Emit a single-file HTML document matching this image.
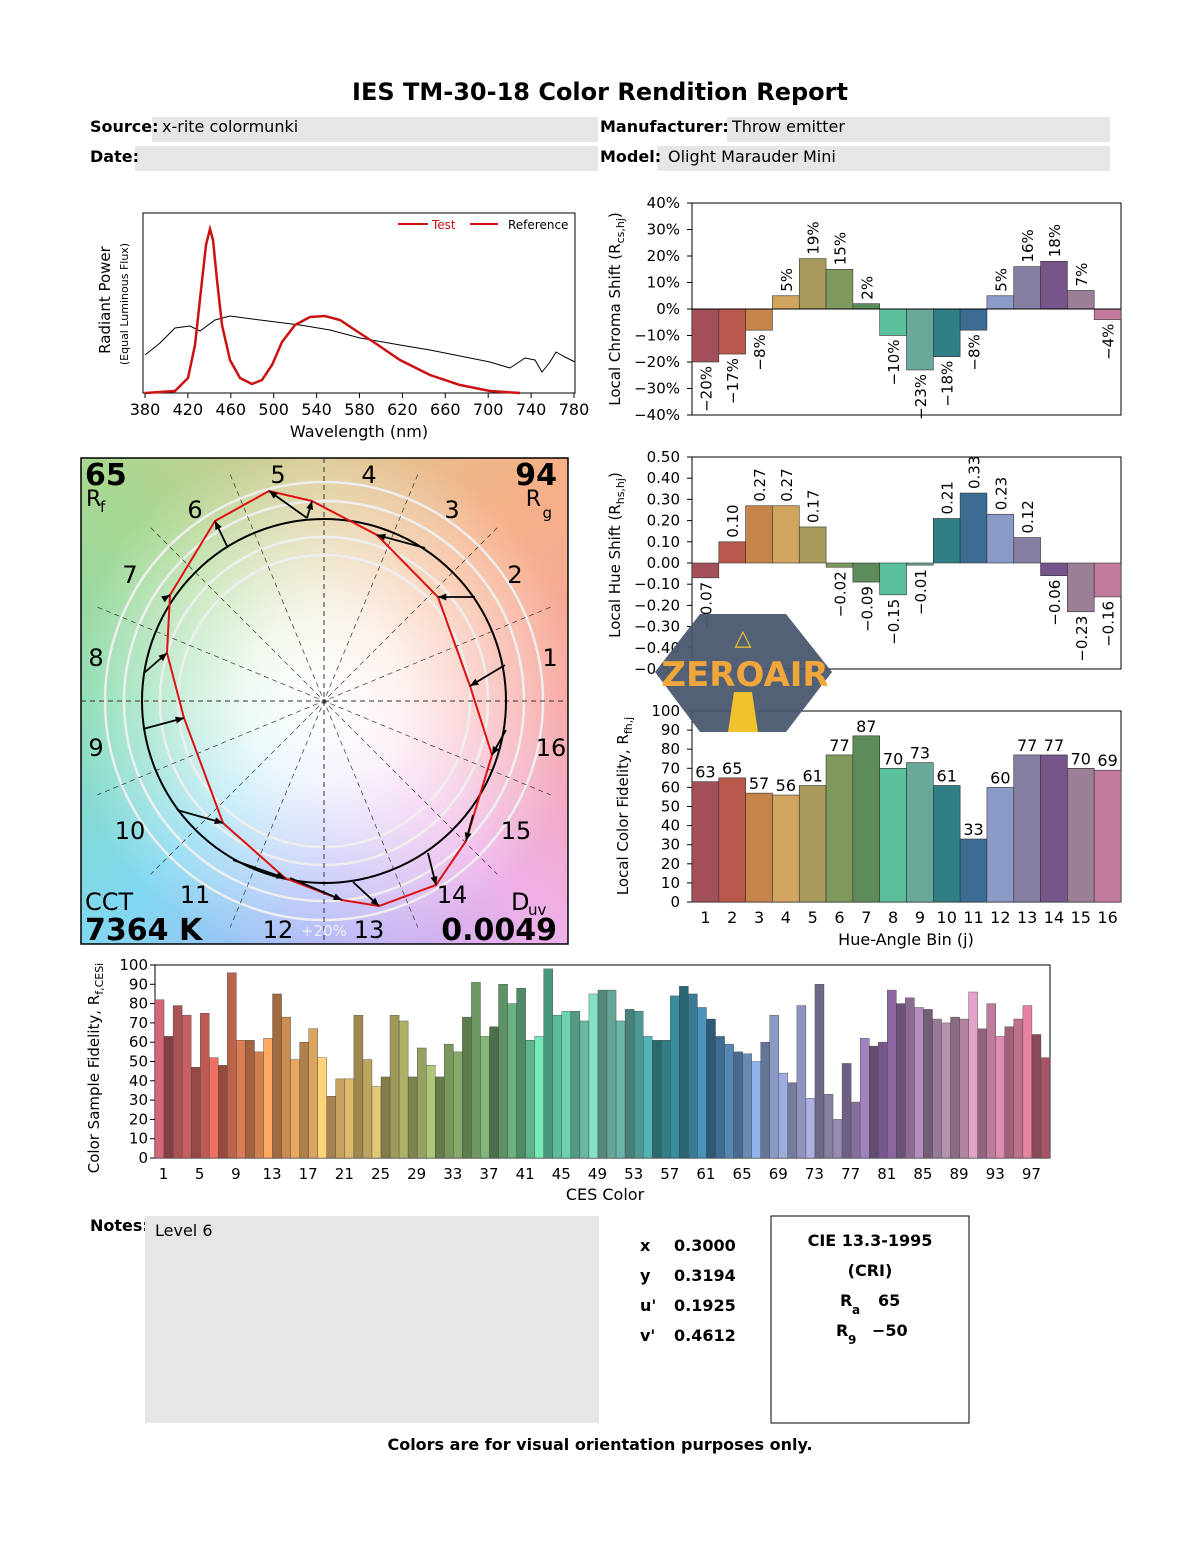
<!DOCTYPE html>
<html><head><meta charset="utf-8"><style>
body{margin:0;background:#fff;width:1200px;height:1550px;position:relative;overflow:hidden;font-family:"DejaVu Sans","Liberation Sans",sans-serif}
#vg{position:absolute;left:81px;top:458px;width:487px;height:486px;
background:radial-gradient(circle at 50% 50%,rgba(255,255,255,1) 0,rgba(255,255,255,.85) 80px,rgba(255,255,255,0) 260px),
conic-gradient(from 90deg at 50% 50%,#f7a4a0,#eeb0e8 45deg,#b0b4f8 90deg,#80d8f0 135deg,#88dcb0 180deg,#a8d890 225deg,#dcc890 270deg,#f6b088 315deg,#f7a4a0 360deg)}
svg{position:absolute;left:0;top:0}
</style></head><body>
<div id="vg"></div>
<svg id="s" width="1200" height="1550" font-family="DejaVu Sans, Liberation Sans, sans-serif"></svg>
<script>
const NS='http://www.w3.org/2000/svg';
const S=document.getElementById('s');
function el(t,a,txt){const e=document.createElementNS(NS,t);for(const k in a)e.setAttribute(k,a[k]);if(txt!=null)e.textContent=txt;S.appendChild(e);return e;}
function tx(x,y,s,o){o=o||{};const a={x:x,y:y,'font-size':o.fs||15,fill:o.fill||'#000','text-anchor':o.a||'start'};if(o.b)a['font-weight']='bold';if(o.r!=null)a.transform='rotate('+o.r+' '+x+' '+y+')';return el('text',a,s);}
function ts(e,s,dy,fs){const t=document.createElementNS(NS,'tspan');t.textContent=s;if(dy!=null)t.setAttribute('dy',dy);if(fs)t.setAttribute('font-size',fs);e.appendChild(t);return t;}
function sublabel(x,y,main,sub,tail){const e=tx(x,y,'',{fs:15,a:'middle',r:-90});ts(e,main);ts(e,sub,4,11);if(tail)ts(e,tail,-4);return e;}
const M=v=>(v<0?'\u2212':'')+Math.abs(v);
// header
tx(600,100,'IES TM-30-18 Color Rendition Report',{fs:24,b:1,a:'middle'});
el('rect',{x:152,y:117,width:446,height:25,fill:'#e6e6e6'});
el('rect',{x:135,y:146,width:463,height:25,fill:'#e6e6e6'});
el('rect',{x:727,y:117,width:383,height:25,fill:'#e6e6e6'});
el('rect',{x:657,y:146,width:453,height:25,fill:'#e6e6e6'});
tx(90,132,'Source:',{fs:16,b:1});tx(162,132,'x-rite colormunki',{fs:16});
tx(90,162,'Date:',{fs:16,b:1});
tx(600,132,'Manufacturer:',{fs:16,b:1});tx(732,132,'Throw emitter',{fs:16});
tx(600,162,'Model:',{fs:16,b:1});tx(668,162,'Olight Marauder Mini',{fs:16});
// spectrum
el('rect',{x:143,y:213,width:432,height:180,fill:'none',stroke:'#000'});
for(let i=0;i<=10;i++){const w=380+i*40,x=145+i*42.9;tx(x,415,''+w,{fs:16,a:'middle'});el('line',{x1:x,y1:393,x2:x,y2:398,stroke:'#000'});}
tx(359,437,'Wavelength (nm)',{fs:16,a:'middle'});
tx(110,300,'Radiant Power',{fs:15,a:'middle',r:-90});tx(128,304,'(Equal Luminous Flux)',{fs:11,a:'middle',r:-90});
el('polyline',{points:'145,355 160,343 175,328 190,326 200,331 215,320 230,316 260,320 300,325 330,330 360,338 400,345 430,350 460,356 490,362 510,368 525,358 535,360 542,372 550,362 556,352 565,357 575,362',fill:'none',stroke:'#000','stroke-width':1});
el('polyline',{points:'145,393 175,391 188,378 195,345 201,290 206,245 210,229 213,240 217,280 222,325 230,360 240,378 252,384 262,380 272,365 282,342 295,325 310,317 325,316 340,320 355,330 375,343 400,360 430,375 460,385 490,391 520,393',fill:'none',stroke:'#cc1111','stroke-width':2.5});
el('line',{x1:398,y1:224,x2:428,y2:224,stroke:'#cc1111','stroke-width':2});tx(432,229,'Test',{fs:12,fill:'#cc1111'});
el('line',{x1:470,y1:224,x2:498,y2:224,stroke:'#cc1111','stroke-width':2});tx(508,229,'Reference',{fs:12});
// colors
const C=['#a34f5a','#b8574a','#c7844a','#d2a55f','#a89a5a','#7f9a5c','#5d8b5c','#5abf9b','#6aa89a','#2f7f85','#3b6c93','#8b9ac7','#857ea0','#76558a','#9b7f97','#c27b9d'];
const X0=692,BW=429/16;
// chroma
const ch=[-20,-17,-8,5,19,15,2,-10,-23,-18,-8,5,16,18,7,-4];
el('rect',{x:692,y:203,width:429,height:212,fill:'none',stroke:'#000'});
for(let v=-40;v<=40;v+=10){const y=309-v*2.65;tx(680,y+5,M(v)+'%',{fs:15,a:'end'});el('line',{x1:687,y1:y,x2:692,y2:y,stroke:'#000'});}
sublabel(620,309,'Local Chroma Shift (R','cs,hj',')');
ch.forEach((v,i)=>{const x=X0+i*BW,h=Math.abs(v)*2.65,cx=x+BW/2+6;el('rect',{x:x,y:v>0?309-h:309,width:BW,height:h,fill:C[i],stroke:'#333','stroke-width':.6});
if(v>0){tx(cx,305-h,v+'%',{fs:15,r:-90});}else{tx(cx,313+h,M(v)+'%',{fs:15,r:-90,a:'end'});}});
el('line',{x1:692,y1:309,x2:1121,y2:309,stroke:'#000'});
// hue
const hs=[-0.07,0.10,0.27,0.27,0.17,-0.02,-0.09,-0.15,-0.01,0.21,0.33,0.23,0.12,-0.06,-0.23,-0.16];
el('rect',{x:692,y:457,width:429,height:212,fill:'none',stroke:'#000'});
for(let k=-5;k<=5;k++){const v=k/10,y=563-v*212;tx(680,y+5,(v<0?'\u2212':'')+Math.abs(v).toFixed(2),{fs:15,a:'end'});el('line',{x1:687,y1:y,x2:692,y2:y,stroke:'#000'});}
sublabel(620,555,'Local Hue Shift (R','hs,hj',')');
hs.forEach((v,i)=>{const x=X0+i*BW,h=Math.abs(v)*212,cx=x+BW/2+6;el('rect',{x:x,y:v>0?563-h:563,width:BW,height:h,fill:C[i],stroke:'#333','stroke-width':.6});
const s=(v<0?'\u2212':'')+Math.abs(v).toFixed(2);if(v>0)tx(cx,559-h,s,{fs:15,r:-90});else tx(cx,567+h,s,{fs:15,r:-90,a:'end'});});
// fidelity
const fd=[63,65,57,56,61,77,87,70,73,61,33,60,77,77,70,69];
el('rect',{x:692,y:711,width:429,height:191,fill:'none',stroke:'#000'});
for(let v=0;v<=100;v+=10){const y=902-v*1.91;tx(680,y+5,''+v,{fs:15,a:'end'});el('line',{x1:687,y1:y,x2:692,y2:y,stroke:'#000'});}
sublabel(628,806,'Local Color Fidelity, R','fh,j','');
fd.forEach((v,i)=>{const x=X0+i*BW,h=v*1.91;el('rect',{x:x,y:902-h,width:BW,height:h,fill:C[i],stroke:'#333','stroke-width':.6});tx(x+BW/2,898-h,''+v,{fs:16,a:'middle'});tx(x+BW/2,923,''+(i+1),{fs:16,a:'middle'});});
tx(906,945,'Hue-Angle Bin (j)',{fs:16,a:'middle'});
// vector graphic
el('rect',{x:81,y:458,width:487,height:486,fill:'none',stroke:'#000','stroke-width':1.5});
const cx=324,cy=701;
[146,164,200,219].forEach(r=>el('circle',{cx:cx,cy:cy,r:r,fill:'none',stroke:'#eeeeee','stroke-width':2.5}));
for(let k=0;k<8;k++){const a=k*22.5*Math.PI/180,L=k%4==0?243:245,dx=Math.cos(a)*L,dy=Math.sin(a)*L;el('line',{x1:cx-dx,y1:cy-dy,x2:cx+dx,y2:cy+dy,stroke:'#333','stroke-width':k%4==0?1:.7,'stroke-dasharray':'5,4'});}
el('circle',{cx:cx,cy:cy,r:182,fill:'none',stroke:'#000','stroke-width':2});
const T=[[470,686],[438,597],[377,535],[312,501],[269,491],[215,521],[170,595],[167,653],[184,718],[223,823],[285,878],[342,900],[379,906],[436,885],[466,841],[492,755]];
el('polygon',{points:T.map(p=>p.join(',')).join(' '),fill:'none',stroke:'#dd1111','stroke-width':2});
const R=[[505,665],[475,597],[425,548],[307,518],[307,518],[227,546],[165,598],[144,673],[143,729],[177,810],[233,860],[290,878],[353,882],[428,853],[473,815],[506,730]];
T.forEach((t,i)=>{const r=R[i];el('line',{x1:r[0],y1:r[1],x2:t[0],y2:t[1],stroke:'#000','stroke-width':1.8});const a=Math.atan2(t[1]-r[1],t[0]-r[0]),l=9;
el('polygon',{points:[t,[t[0]-l*Math.cos(a-.4),t[1]-l*Math.sin(a-.4)],[t[0]-l*Math.cos(a+.4),t[1]-l*Math.sin(a+.4)]].map(p=>p.join(',')).join(' '),fill:'#000'});});
const HL=[[550,666],[515,583],[452,518],[369,483],[278,483],[195,518],[130,583],[96,666],[96,756],[130,839],[195,903],[278,938],[369,938],[452,903],[516,839],[551,756]];
HL.forEach((p,i)=>tx(p[0],p[1],''+(i+1),{fs:24,a:'middle'}));
tx(324,936,'+20%',{fs:15,fill:'#eee',a:'middle'});
tx(85,485,'65',{fs:30,b:1});tx(86,506,'R',{fs:22});tx(100,512,'f',{fs:15});
tx(557,485,'94',{fs:30,b:1,a:'end'});tx(541,506,'R',{fs:22,a:'end'});tx(552,518,'g',{fs:15,a:'end'});
tx(85,910,'CCT',{fs:24});tx(85,940,'7364 K',{fs:30,b:1});
tx(511,910,'D',{fs:24});tx(528,915,'uv',{fs:15});tx(557,940,'0.0049',{fs:30,b:1,a:'end'});
// watermark
el('polygon',{points:'700,614 786,614 832,672 786,732 700,732 655,672',fill:'#4a5870',opacity:.95});
el('polygon',{points:'728,732 758,732 752,692 734,692',fill:'#f2c22e'});
tx(743,645,'\u25B3',{fs:22,fill:'#f2c22e',a:'middle',b:1});
tx(745,686,'ZEROAIR',{fs:34,b:1,fill:'#f0a63a',a:'middle'});
// CES
const ces=[82,63,79,74,47,75,52,48,96,61,61,55,62,85,73,51,60,67,52,32,41,41,74,51,37,42,74,71,42,57,48,42,59,55,73,91,63,68,90,80,88,61,63,98,74,76,76,71,85,87,87,71,77,76,63,61,61,84,89,85,78,72,63,59,55,54,50,60,74,44,39,79,31,90,33,20,49,29,62,58,60,87,80,83,78,77,72,70,73,72,86,67,80,63,68,72,79,64,52];
function hx(h){return [1,3,5].map(k=>parseInt(h.substr(k,2),16));}
el('rect',{x:155,y:965,width:895,height:193,fill:'none',stroke:'#000'});
for(let v=0;v<=100;v+=10){const y=1158-v*1.93;tx(148,y+5,''+v,{fs:15,a:'end'});el('line',{x1:150,y1:y,x2:155,y2:y,stroke:'#000'});}
sublabel(99,1068,'Color Sample Fidelity, R','f,CESi','');
const W=895/99;
ces.forEach((v,i)=>{const f=i/99*16,a=Math.floor(f)%16,b=(a+1)%16,t=f-Math.floor(f);const ca=hx(C[a]),cb=hx(C[b]);const lf=[1.3,0.8,1.0,1.15,0.85,1.05][i%6];
const c=ca.map((q,j)=>Math.max(0,Math.min(255,Math.round((q*(1-t)+cb[j]*t)*lf))));
const x=155+i*W,h=v*1.93;el('rect',{x:x,y:1158-h,width:W,height:h,fill:'rgb('+c.join(',')+')',stroke:'#444','stroke-width':.4});
if(i%4==0)tx(x+W/2+4,1179,''+(i+1),{fs:15,a:'middle'});});
tx(605,1200,'CES Color',{fs:16,a:'middle'});
// notes
tx(90,1231,'Notes:',{fs:16,b:1});
el('rect',{x:145,y:1216,width:454,height:207,fill:'#e6e6e6'});
tx(155,1236,'Level 6',{fs:16});
[['x','0.3000'],['y','0.3194'],["u'",'0.1925'],["v'",'0.4612']].forEach((p,i)=>{tx(640,1251+i*30,p[0],{fs:16,b:1});tx(674,1251+i*30,p[1],{fs:16,b:1});});
el('rect',{x:771,y:1216,width:198,height:207,fill:'none',stroke:'#000'});
tx(870,1246,'CIE 13.3-1995',{fs:16,b:1,a:'middle'});
tx(870,1276,'(CRI)',{fs:16,b:1,a:'middle'});
tx(840,1306,'R',{fs:16,b:1});tx(852,1314,'a',{fs:12,b:1});tx(878,1306,'65',{fs:16,b:1});
tx(836,1336,'R',{fs:16,b:1});tx(848,1344,'9',{fs:12,b:1});tx(872,1336,'\u221250',{fs:16,b:1});
tx(600,1450,'Colors are for visual orientation purposes only.',{fs:16,b:1,a:'middle'});
</script>
</body></html>
